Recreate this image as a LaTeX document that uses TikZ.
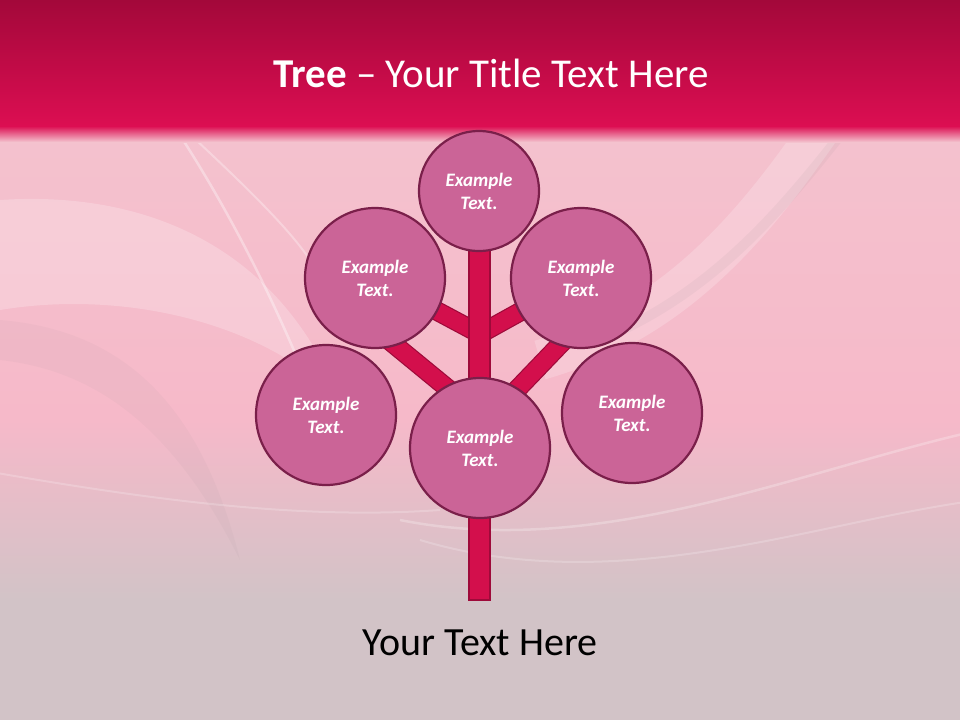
\documentclass[tikz,border=0pt]{standalone}
\usepackage{fontspec}
\setmainfont{Carlito}
\usetikzlibrary{calc}
\definecolor{bandtop}{HTML}{A3083A}
\definecolor{bandbot}{HTML}{DC0E52}
\definecolor{bgtop}{HTML}{F4C2CE}
\definecolor{bgmid}{HTML}{F6B9C9}
\definecolor{bgbot}{HTML}{D2C3C7}
\definecolor{circfill}{HTML}{CB6497}
\definecolor{circline}{HTML}{7A1F4A}
\definecolor{trunkfill}{HTML}{D30F4C}
\definecolor{trunkline}{HTML}{9E0A3A}
\tikzset{
  leaf/.style={circle, fill=circfill, draw=circline, line width=2.2pt, inner sep=0pt,
    align=center, text=white, font=\fontsize{19}{23}\selectfont\bfseries\itshape},
  small/.style={leaf, minimum size=120pt},
  big/.style={leaf, minimum size=140pt},
  branch/.style={draw=trunkline, line width=1.2pt, double=trunkfill, double distance=17pt},
  trunkbox/.style={fill=trunkfill, draw=trunkline, line width=1.2pt},
  swoosh/.style={white}
}
\begin{document}
\begin{tikzpicture}[x=1pt,y=-1pt]
\useasboundingbox (0,0) rectangle (960,720);
% background
\shade[top color=bgtop, bottom color=bgmid] (0,128) rectangle (960,420);
\shade[top color=bgmid, bottom color=bgbot] (0,420) rectangle (960,600);
\fill[bgbot] (0,600) rectangle (960,720);
% soft swooshes
\begin{scope}
\clip (0,128) rectangle (960,720);
\fill[white, opacity=0.22] (0,200) .. controls (150,190) and (280,250) .. (340,400)
   .. controls (260,320) and (120,290) .. (0,310) -- cycle;
\fill[gray, opacity=0.05] (0,320) .. controls (120,330) and (200,400) .. (240,560)
   .. controls (170,420) and (90,370) .. (0,360) -- cycle;
\draw[swoosh, line width=2.5pt, opacity=0.35] (170,120) .. controls (250,240) and (300,360) .. (330,440);
\draw[swoosh, line width=2pt, opacity=0.3] (180,125) .. controls (250,190) and (290,230) .. (310,260);
\draw[swoosh, line width=40pt, opacity=0.2] (540,360) .. controls (680,320) and (760,220) .. (840,100);
\draw[gray, line width=10pt, opacity=0.07] (600,340) .. controls (720,290) and (790,200) .. (860,110);
\draw[swoosh, line width=2.5pt, opacity=0.25] (400,520) .. controls (600,560) and (800,470) .. (980,430);
\draw[swoosh, line width=2pt, opacity=0.2] (420,540) .. controls (620,600) and (820,520) .. (980,500);
\draw[swoosh, line width=2pt, opacity=0.2] (-20,470) .. controls (150,500) and (300,520) .. (440,510);
\end{scope}
% title band
\shade[top color=bandtop, bottom color=bandbot] (0,0) rectangle (960,126);
\shade[top color=bandbot, bottom color=bgtop] (0,126) rectangle (960,142);
\node[text=white, font=\fontsize{41}{44}\selectfont, anchor=base] (title) at (491,87)
  {\textbf{Tree} – Your Title Text Here};
% coordinates for the tree
\coordinate (j1) at (480,334);
\coordinate (ls) at (385,337);
\coordinate (le) at (480,415);
\coordinate (rs) at (575,329);
\coordinate (re) at (480,428);
\coordinate (ttop) at (469,240);
\coordinate (tbot) at (490,600);
\path (375,278) coordinate (ulc) (581,278) coordinate (urc);
\draw[branch] (ulc) -- (j1);
\draw[branch] (urc) -- (j1);
\draw[branch] (ls) -- (le);
\draw[branch] (rs) -- (re);
\draw[trunkbox] (ttop) rectangle (tbot);
% leaves
\node[small] (top) at (479,191) {Example\\Text.};
\node[big] (ul) at (ulc) {Example\\Text.};
\node[big] (ur) at (urc) {Example\\Text.};
\node[big] (l) at (326,415) {Example\\Text.};
\node[big] (r) at (632,413) {Example\\Text.};
\node[big] (c) at (480,448) {Example\\Text.};
% bottom text
\node[text=black, font=\fontsize{40}{44}\selectfont, anchor=base] (bottom) at (480,655) {Your Text Here};
\end{tikzpicture}
\end{document}
